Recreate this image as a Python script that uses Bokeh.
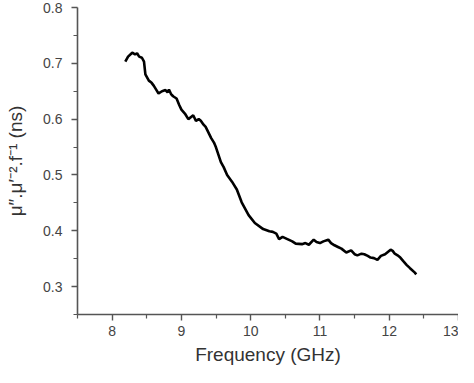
from bokeh.plotting import figure
from bokeh.models import Range1d, FixedTicker
from bokeh.embed import file_html
from bokeh.resources import INLINE

freq_ghz = [8.19, 8.23, 8.29, 8.33, 8.36, 8.39, 8.43, 8.46, 8.48, 8.53, 8.57, 8.60, 8.64, 8.67,
            8.72, 8.77, 8.80, 8.82, 8.85, 8.88, 8.93, 8.97, 9.00, 9.05, 9.10, 9.14, 9.17, 9.21,
            9.25, 9.28, 9.32, 9.35, 9.43, 9.47, 9.50, 9.57, 9.61, 9.66, 9.73, 9.80, 9.87, 9.97,
            10.06, 10.18, 10.27, 10.32, 10.37, 10.41, 10.46, 10.53, 10.60, 10.65, 10.74, 10.79,
            10.84, 10.91, 10.95, 11.00, 11.05, 11.12, 11.16, 11.21, 11.26, 11.31, 11.38, 11.45,
            11.50, 11.54, 11.60, 11.64, 11.69, 11.73, 11.78, 11.83, 11.88, 11.94, 11.98, 12.02,
            12.05, 12.08, 12.12, 12.16, 12.20, 12.25, 12.30, 12.37, 12.39]
value_ns = [0.703, 0.712, 0.719, 0.716, 0.718, 0.712, 0.710, 0.703, 0.680, 0.669, 0.665, 0.660,
            0.652, 0.646, 0.650, 0.652, 0.648, 0.653, 0.645, 0.641, 0.637, 0.625, 0.617, 0.610,
            0.600, 0.604, 0.607, 0.597, 0.600, 0.597, 0.590, 0.586, 0.566, 0.558, 0.549, 0.523,
            0.514, 0.500, 0.488, 0.474, 0.451, 0.428, 0.414, 0.403, 0.399, 0.398, 0.395, 0.385,
            0.389, 0.385, 0.381, 0.377, 0.376, 0.378, 0.375, 0.384, 0.380, 0.378, 0.381, 0.384,
            0.378, 0.374, 0.371, 0.368, 0.361, 0.365, 0.358, 0.356, 0.359, 0.358, 0.355, 0.352,
            0.351, 0.348, 0.355, 0.358, 0.362, 0.366, 0.364, 0.359, 0.356, 0.352, 0.346, 0.339,
            0.333, 0.325, 0.322]

x_ticks = [8, 9, 10, 11, 12, 13]
x_minor = [7.5, 8.5, 9.5, 10.5, 11.5, 12.5]
y_ticks = [0.3, 0.4, 0.5, 0.6, 0.7, 0.8]
y_minor = [0.25, 0.35, 0.45, 0.55, 0.65, 0.75]

p = figure(width=458, height=367, output_backend="svg", toolbar_location=None,
           x_range=Range1d(7.5, 13), y_range=Range1d(0.25, 0.8),
           min_border_left=77, min_border_right=0, min_border_top=7, min_border_bottom=0)
p.outline_line_color = None
p.xgrid.visible = False
p.ygrid.visible = False
p.background_fill_color = "white"
p.border_fill_color = "white"

p.line(freq_ghz, value_ns, line_color="black", line_width=2.6)

p.xaxis.ticker = FixedTicker(ticks=x_ticks, minor_ticks=x_minor)
p.yaxis.ticker = FixedTicker(ticks=y_ticks, minor_ticks=y_minor)
p.yaxis.major_label_overrides = {0.3: "0.3", 0.4: "0.4", 0.5: "0.5", 0.6: "0.6", 0.7: "0.7", 0.8: "0.8"}

for ax in (p.xaxis, p.yaxis):
    ax.axis_line_color = "#555555"
    ax.axis_line_width = 1.6
    ax.major_tick_line_color = "#555555"
    ax.minor_tick_line_color = "#555555"
    ax.major_tick_line_width = 1.4
    ax.minor_tick_line_width = 1.2
    ax.major_tick_in = 0
    ax.major_tick_out = 6
    ax.minor_tick_in = 0
    ax.minor_tick_out = 4
    ax.major_label_text_font = "Liberation Sans"
    ax.major_label_text_font_size = "14px"
    ax.major_label_text_color = "#444444"
    ax.axis_label_text_font = "Liberation Sans"
    ax.axis_label_text_font_style = "normal"
    ax.axis_label_text_color = "#333333"
    ax.axis_label_text_font_size = "19px"

p.xaxis.axis_label = "Frequency (GHz)"
p.yaxis.axis_label = "μ″.μ′⁻².f⁻¹ (ns)"
p.xaxis.major_label_standoff = 5
p.yaxis.major_label_standoff = 9
p.xaxis.axis_label_standoff = 5
p.yaxis.axis_label_standoff = 14

open("out.html", "w").write(file_html(p, INLINE))
